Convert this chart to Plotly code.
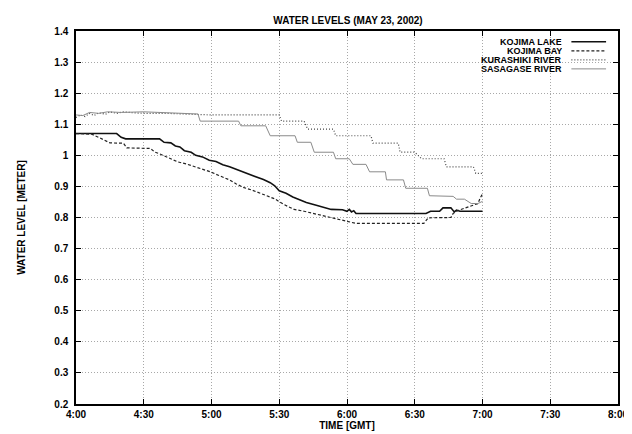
import plotly.graph_objects as go

# time in minutes after 4:00 GMT
lake_t = [0, 18, 20, 22, 37, 39, 42, 44, 46, 48, 51, 53, 56, 59, 62, 65, 68, 71, 74, 77, 80, 83, 86, 88, 90, 93, 96, 99, 102, 106, 110, 113, 118, 120, 121, 122, 123, 124, 155, 157, 161, 162.5, 166, 167.5, 168.5, 170, 180]
lake_v = [1.07, 1.07, 1.058, 1.053, 1.053, 1.042, 1.04, 1.03, 1.027, 1.015, 1.01, 1.0, 0.995, 0.984, 0.98, 0.97, 0.963, 0.955, 0.947, 0.94, 0.93, 0.922, 0.912, 0.902, 0.886, 0.878, 0.866, 0.858, 0.848, 0.84, 0.832, 0.826, 0.825, 0.82, 0.826, 0.818, 0.822, 0.813, 0.813, 0.82, 0.82, 0.831, 0.831, 0.818, 0.824, 0.82, 0.82]

bay_t = [0, 7, 10, 13, 15, 21, 22.5, 33, 35, 37, 41, 45, 49, 53, 56, 59.5, 63, 68, 71, 74, 78, 83, 88, 92, 96.6, 101, 107, 112, 117, 121, 124, 154, 156, 166, 167, 169, 172, 176, 178, 179, 180]
bay_v = [1.07, 1.068, 1.058, 1.048, 1.04, 1.039, 1.024, 1.022, 1.01, 1.005, 0.992, 0.979, 0.972, 0.963, 0.955, 0.947, 0.936, 0.921, 0.908, 0.897, 0.888, 0.874, 0.86, 0.842, 0.826, 0.82, 0.81, 0.8, 0.792, 0.785, 0.781, 0.781, 0.799, 0.8, 0.813, 0.822, 0.83, 0.841, 0.845, 0.863, 0.876]

kura_t = [0, 2, 4, 6, 8, 10, 13, 15, 18, 21, 25, 30, 40, 50, 60, 90, 91, 101, 102.6, 114, 115, 130.6, 131.5, 142.7, 143.5, 150, 153, 163, 164, 176, 177, 180]
kura_v = [1.122, 1.13, 1.125, 1.135, 1.128, 1.137, 1.132, 1.14, 1.135, 1.14, 1.137, 1.135, 1.135, 1.132, 1.13, 1.13, 1.11, 1.11, 1.084, 1.084, 1.063, 1.063, 1.039, 1.039, 1.01, 1.01, 0.989, 0.989, 0.963, 0.963, 0.942, 0.942]

sasa_t = [0, 3, 6, 10, 14, 20, 30, 40, 50, 54, 55, 72, 73, 84, 86, 97, 98, 104, 105.5, 114, 115, 121, 122.6, 128.4, 130, 137, 137.5, 145, 146, 155.6, 156.5, 167, 168.5, 172, 175, 178, 180]
sasa_v = [1.13, 1.128, 1.138, 1.135, 1.14, 1.138, 1.14, 1.138, 1.135, 1.133, 1.11, 1.11, 1.095, 1.095, 1.063, 1.063, 1.042, 1.042, 1.01, 1.01, 0.989, 0.989, 0.971, 0.971, 0.947, 0.947, 0.921, 0.921, 0.894, 0.894, 0.87, 0.868, 0.859, 0.859, 0.845, 0.845, 0.852]

series_names = ["KOJIMA LAKE", "KOJIMA BAY", "KURASHIKI RIVER", "SASAGASE RIVER"]

x_tickvals = [0, 30, 60, 90, 120, 150, 180, 210, 240]
x_ticktext = ["4:00", "4:30", "5:00", "5:30", "6:00", "6:30", "7:00", "7:30", "8:00"]
y_tickvals = [0.2, 0.3, 0.4, 0.5, 0.6, 0.7, 0.8, 0.9, 1.0, 1.1, 1.2, 1.3, 1.4]
y_ticktext = ["0.2", "0.3", "0.4", "0.5", "0.6", "0.7", "0.8", "0.9", "1", "1.1", "1.2", "1.3", "1.4"]

styles = [
    dict(color="#111111", width=1.6, dash="solid"),
    dict(color="#222222", width=1.2, dash="3px,2px"),
    dict(color="#444444", width=1.2, dash="1px,2px"),
    dict(color="#8a8a8a", width=1.0, dash="solid"),
]

data = [(lake_t, lake_v), (bay_t, bay_v), (kura_t, kura_v), (sasa_t, sasa_v)]

fig = go.Figure()
for (t, v), name, st in zip(data, series_names, styles):
    fig.add_trace(go.Scatter(x=t, y=v, mode="lines", name=name, line=st, showlegend=False))

FONT = "Liberation Sans, Arial, sans-serif"

# custom legend: right-aligned text rows, sample lines on the right
plot_top, plot_h = 23, 434 - 23 - 31
row_px = [34.0, 43.2, 52.4, 61.6]
for name, st, ypx in zip(series_names, styles, row_px):
    yy = 1 - (ypx - plot_top) / plot_h
    fig.add_annotation(x=0.899, y=yy, xref="paper", yref="paper", text=name,
                       showarrow=False, xanchor="right", yanchor="middle",
                       borderpad=0, height=9, valign="middle",
                       font=dict(family=FONT, size=9, color="black", weight="bold"))
    fig.add_shape(type="line", xref="paper", yref="paper", x0=0.914, x1=0.978, y0=yy, y1=yy,
                  line=st)

axis_common = dict(
    showline=True, linecolor="black", linewidth=1.5, mirror="allticks",
    ticks="inside", ticklen=5, tickcolor="black", tickwidth=1.2,
    showgrid=True, gridcolor="#a8a8a8", gridwidth=1, griddash="1px,2px",
    zeroline=False,
    tickfont=dict(family=FONT, size=10, color="black", weight="bold"),
)

fig.update_xaxes(range=[0, 240], tickvals=x_tickvals, ticktext=x_ticktext,
                 title=dict(text="TIME [GMT]", standoff=3,
                            font=dict(family=FONT, size=10, color="black", weight="bold")),
                 **axis_common)
fig.update_yaxes(range=[0.2, 1.4], tickvals=y_tickvals, ticktext=y_ticktext,
                 ticklabelstandoff=4,
                 title=dict(text="WATER LEVEL [METER]", standoff=27,
                            font=dict(family=FONT, size=10, color="black", weight="bold")),
                 **axis_common)

fig.update_layout(
    width=632, height=434,
    margin=dict(l=62, r=14, t=23, b=31),
    paper_bgcolor="white", plot_bgcolor="white",
    title=dict(text="WATER LEVELS (MAY 23, 2002)", x=0.538, xanchor="center", y=0.972, yanchor="middle",
               font=dict(family=FONT, size=10, color="black", weight="bold")),
    font=dict(family=FONT, color="black"),
)

fig.write_html("out.html")
